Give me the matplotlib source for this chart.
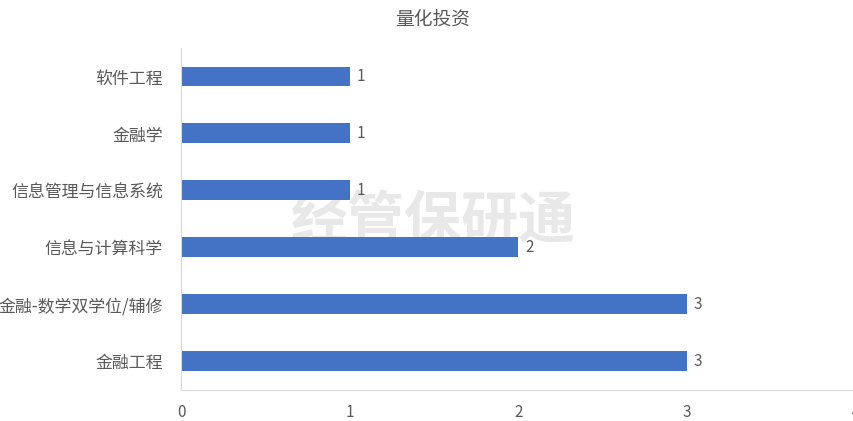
import matplotlib
matplotlib.use('Agg')
import matplotlib.pyplot as plt

plt.rcParams['font.family'] = ['Noto Sans CJK SC', 'DejaVu Sans']

# data, bottom to top as in the chart
categories = ['金融工程', '金融-数学双学位/辅修', '信息与计算科学', '信息管理与信息系统', '金融学', '软件工程']
counts = [3, 3, 2, 1, 1, 1]
xticks = [0, 1, 2, 3, 4]

text_color = '#595959'
bar_color = '#4472C4'
axis_color = '#D9D9D9'

fig = plt.figure(figsize=(8.54, 4.21), dpi=100)
ax = fig.add_axes([0.212, 0.074, 0.790, 0.812])
ax.patch.set_alpha(0)

ypos = range(len(categories))
ax.barh(ypos, counts, height=0.35, color=bar_color)
for y, v in zip(ypos, counts):
    ax.text(v + 0.04, y, str(v), va='center', ha='left', fontsize=11, color=text_color)

ax.set_yticks(list(ypos))
ax.set_yticklabels(categories, fontsize=12.2, color=text_color)
ax.set_xticks(xticks)
ax.set_xticklabels([str(t) for t in xticks], fontsize=11, color=text_color)
ax.set_xlim(0, 4)
ax.set_ylim(-0.5, len(categories) - 0.5)
ax.tick_params(axis='both', length=0)
ax.tick_params(axis='y', pad=13)
ax.tick_params(axis='x', pad=10)

for side in ['top', 'right']:
    ax.spines[side].set_visible(False)
ax.spines['left'].set_color(axis_color)
ax.spines['bottom'].set_color(axis_color)

fig.text(0.507, 0.952, '量化投资', ha='center', va='center', fontsize=13.5, color=text_color)

# watermark, behind the bars
fig.text(0.507, 0.475, '经管保研通', ha='center', va='center', fontsize=41,
         fontweight='bold', color='#E8E8E8', zorder=-1)

fig.savefig('out.png', dpi=100)
